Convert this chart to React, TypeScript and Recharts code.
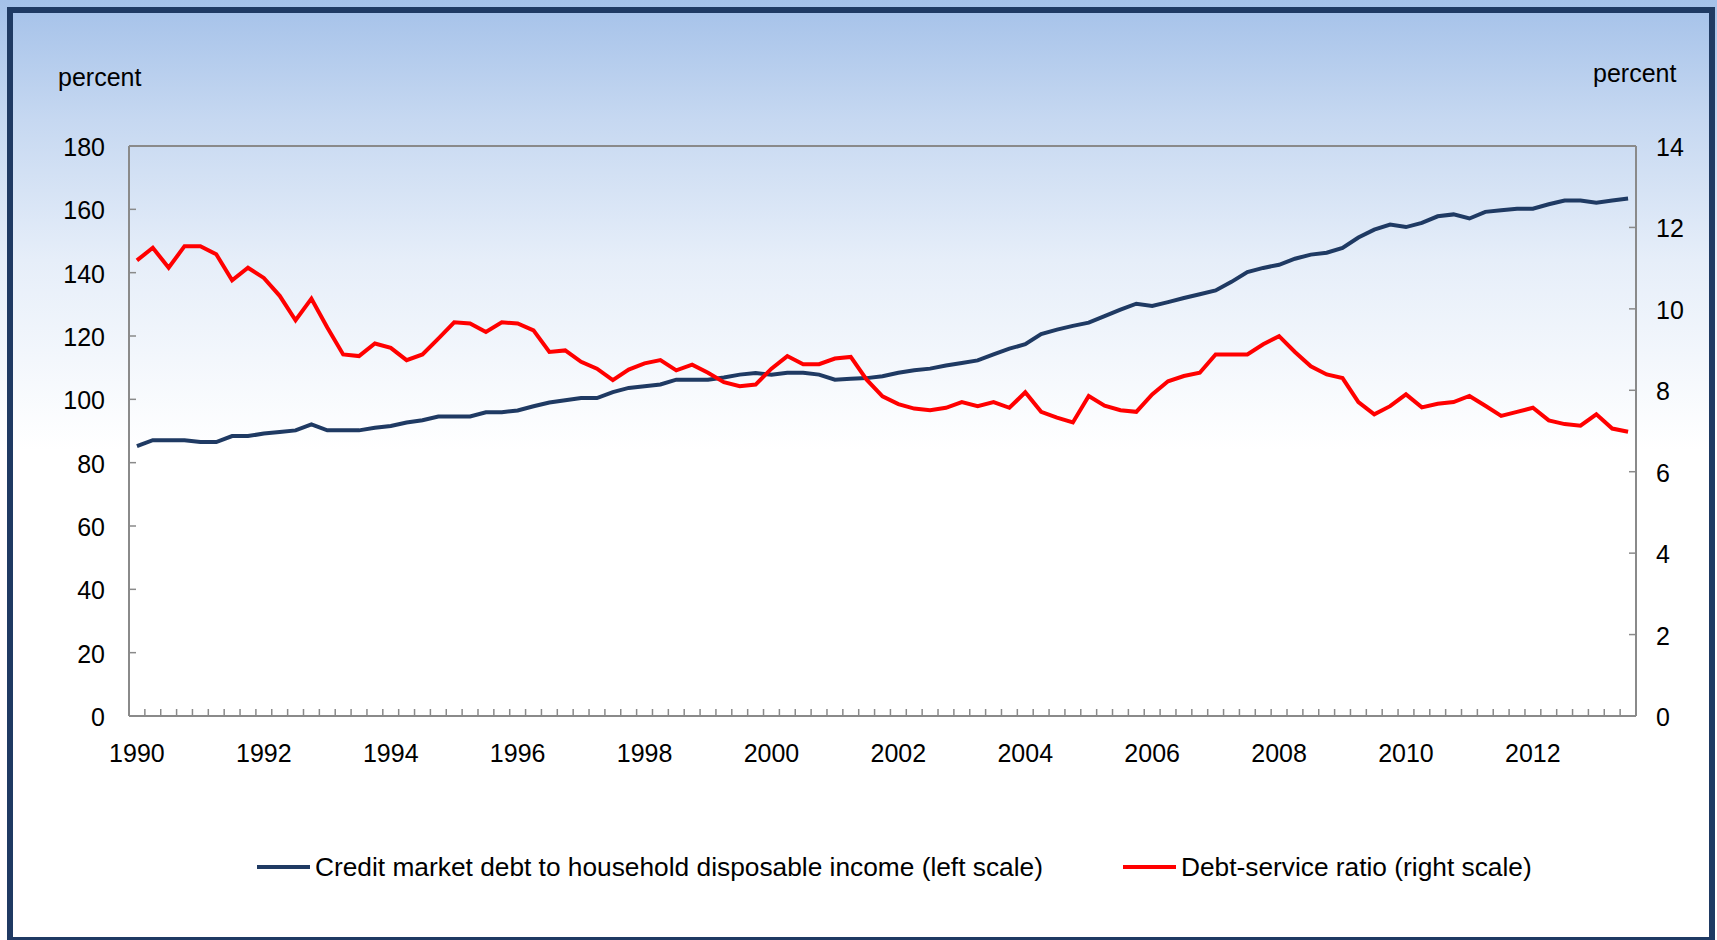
// Household debt vs debt-service ratio, quarterly 1990-2013
import { LineChart, Line, XAxis, YAxis, Legend, ReferenceLine, Label } from 'recharts';

const W = 1717;
const H = 940;
const LEFT_W = 129;
const RIGHT_W = 81;
const AXIS = '#8a8a8a';
const NAVY = '#1f3a63';
const RED = '#ff0000';
const FONT = '"Liberation Sans", Arial, sans-serif';

// quarters 1990 Q1 .. 2013 Q3
const startYear = 1990;
const quarterCount = 95;
const quarters: string[] = [];
for (let i = 0; i < quarterCount; i++) {
    quarters.push(`${startYear + Math.floor(i / 4)} Q${(i % 4) + 1}`);
}

const labelYears = [1990, 1992, 1994, 1996, 1998, 2000, 2002, 2004, 2006, 2008, 2010, 2012];
const leftTicks = [0, 20, 40, 60, 80, 100, 120, 140, 160, 180];
const rightTicks = [0, 2, 4, 6, 8, 10, 12, 14];

// credit market debt to household disposable income, percent (left scale)
const creditDebt = [
    85.2, 87.1, 87.1, 87.1, 86.5, 86.5, 88.4, 88.4, 89.2, 89.7,
    90.2, 92.1, 90.2, 90.2, 90.2, 91.0, 91.6, 92.7, 93.4, 94.6,
    94.6, 94.6, 95.9, 95.9, 96.5, 97.8, 99.0, 99.7, 100.4, 100.4,
    102.3, 103.6, 104.1, 104.7, 106.2, 106.2, 106.2, 106.9, 107.8, 108.3,
    107.8, 108.4, 108.4, 107.8, 106.2, 106.5, 106.7, 107.3, 108.4, 109.2,
    109.7, 110.7, 111.5, 112.3, 114.2, 116.0, 117.4, 120.6, 122.0, 123.2,
    124.2, 126.3, 128.3, 130.2, 129.5, 130.7, 132.0, 133.2, 134.4, 137.1,
    140.2, 141.5, 142.5, 144.4, 145.7, 146.3, 147.8, 151.1, 153.6, 155.2,
    154.4, 155.7, 157.8, 158.4, 157.1, 159.2, 159.7, 160.2, 160.2, 161.6,
    162.8, 162.8, 162.1, 162.8, 163.4,
];

// debt-service ratio, percent (right scale)
const debtService = [
    11.19, 11.5, 11.01, 11.54, 11.54, 11.34, 10.7, 11.01, 10.76, 10.32,
    9.72, 10.25, 9.54, 8.88, 8.84, 9.15, 9.04, 8.74, 8.88, 9.27,
    9.67, 9.64, 9.43, 9.67, 9.64, 9.47, 8.94, 8.98, 8.7, 8.53,
    8.25, 8.51, 8.66, 8.74, 8.49, 8.63, 8.43, 8.2, 8.1, 8.14,
    8.53, 8.84, 8.64, 8.64, 8.78, 8.82, 8.26, 7.85, 7.66, 7.55,
    7.51, 7.57, 7.71, 7.61, 7.71, 7.57, 7.95, 7.47, 7.33, 7.21,
    7.86, 7.62, 7.51, 7.47, 7.9, 8.22, 8.35, 8.43, 8.88, 8.88,
    8.88, 9.13, 9.33, 8.94, 8.59, 8.39, 8.3, 7.71, 7.41, 7.61,
    7.9, 7.58, 7.67, 7.71, 7.86, 7.62, 7.37, 7.47, 7.57, 7.26,
    7.17, 7.13, 7.41, 7.06, 6.98,
];

const seriesNames = [
    'Credit market debt to household disposable income (left scale)',
    'Debt-service ratio (right scale)',
];

const data = quarters.map((q, i) => ({
    quarter: q,
    debt: creditDebt[i],
    dsr: debtService[i],
}));

const band = (W - LEFT_W - RIGHT_W) / quarters.length;

function XTick(props: any) {
    const { x, y, payload } = props;
    const [yr, q] = String(payload.value).split(' ');
    const showLabel = q === 'Q1' && labelYears.includes(Number(yr));
    const bx = x - band / 2;
    return (
        <g>
            {payload.index > 0 && <line x1={bx} x2={bx} y1={y} y2={y - 7} stroke={AXIS} strokeWidth={1.5} />}
            {showLabel && (
                <text x={x} y={y + 46} textAnchor="middle" fontSize={25} fontFamily={FONT} fill="#000">
                    {yr}
                </text>
            )}
        </g>
    );
}

function LeftTick(props: any) {
    const { x, y, payload } = props;
    const ax = x + 24;
    return (
        <g>
            <line x1={ax} x2={ax + 7} y1={y} y2={y} stroke={AXIS} strokeWidth={1.5} />
            <text x={x} y={y} dy={10} textAnchor="end" fontSize={25} fontFamily={FONT} fill="#000">
                {payload.value}
            </text>
        </g>
    );
}

function RightTick(props: any) {
    const { x, y, payload } = props;
    const ax = x - 20;
    return (
        <g>
            <line x1={ax - 7} x2={ax} y1={y} y2={y} stroke={AXIS} strokeWidth={1.5} />
            <text x={x} y={y} dy={10} textAnchor="start" fontSize={25} fontFamily={FONT} fill="#000">
                {payload.value}
            </text>
        </g>
    );
}

function LegendBox() {
    const item = (name: string, color: string, gap: number) => (
        <div style={{ display: 'flex', alignItems: 'center', marginLeft: gap }}>
            <span style={{ display: 'inline-block', width: 53, height: 4, background: color, marginRight: 5 }} />
            <span style={{ fontSize: 26.3, color: '#000', whiteSpace: 'nowrap' }}>{name}</span>
        </div>
    );
    return (
        <div style={{ display: 'flex', alignItems: 'center', height: 60, paddingLeft: 257, fontFamily: FONT }}>
            {item(seriesNames[0], NAVY, 0)}
            {item(seriesNames[1], RED, 80)}
        </div>
    );
}

export default function App() {
    return (
        <div
            style={{
                position: 'absolute',
                left: 0,
                top: 0,
                width: W,
                height: H,
                overflow: 'hidden',
                fontFamily: FONT,
                background: 'linear-gradient(180deg, #a4c1e9 0px, #c6d8f1 120px, #e6eef9 260px, #ffffff 450px, #ffffff 100%)',
            }}
        >
            <div
                style={{
                    position: 'absolute',
                    left: 7,
                    top: 7,
                    width: 1708,
                    height: 936,
                    border: `6px solid ${NAVY}`,
                    boxSizing: 'border-box',
                }}
            />
            <div style={{ position: 'absolute', left: 0, top: 0 }}>
                <LineChart width={W} height={H} data={data} margin={{ top: 146, right: 0, bottom: 104, left: 0 }}>
                    <XAxis
                        dataKey="quarter"
                        xAxisId="x"
                        scale="band"
                        interval={0}
                        tickLine={false}
                        tickSize={0}
                        tickMargin={0}
                        height={60}
                        axisLine={{ stroke: AXIS, strokeWidth: 2 }}
                        tick={<XTick />}
                    />
                    <YAxis
                        yAxisId="left"
                        orientation="left"
                        width={LEFT_W}
                        domain={[0, 180]}
                        ticks={leftTicks}
                        tickLine={false}
                        tickSize={0}
                        tickMargin={24}
                        axisLine={{ stroke: AXIS, strokeWidth: 2 }}
                        tick={<LeftTick />}
                    >
                        <Label
                            content={(p: any) => (
                                <text x={p.viewBox.x + 58} y={86} fontSize={25} fontFamily={FONT} fill="#000">
                                    percent
                                </text>
                            )}
                        />
                    </YAxis>
                    <YAxis
                        yAxisId="right"
                        orientation="right"
                        width={RIGHT_W}
                        domain={[0, 14]}
                        ticks={rightTicks}
                        tickLine={false}
                        tickSize={0}
                        tickMargin={20}
                        axisLine={{ stroke: AXIS, strokeWidth: 2 }}
                        tick={<RightTick />}
                    >
                        <Label
                            content={(p: any) => (
                                <text x={p.viewBox.x - 43} y={82} fontSize={25} fontFamily={FONT} fill="#000">
                                    percent
                                </text>
                            )}
                        />
                    </YAxis>
                    <ReferenceLine yAxisId="left" xAxisId="x" y={180} stroke={AXIS} strokeWidth={2} />
                    <Legend
                        verticalAlign="bottom"
                        height={60}
                        wrapperStyle={{ top: 837, left: 0, width: W, height: 60 }}
                        content={() => <LegendBox />}
                    />
                    <Line
                        xAxisId="x"
                        yAxisId="left"
                        dataKey="debt"
                        name={seriesNames[0]}
                        type="linear"
                        stroke={NAVY}
                        strokeWidth={4}
                        dot={false}
                        isAnimationActive={false}
                    />
                    <Line
                        xAxisId="x"
                        yAxisId="right"
                        dataKey="dsr"
                        name={seriesNames[1]}
                        type="linear"
                        stroke={RED}
                        strokeWidth={4}
                        dot={false}
                        isAnimationActive={false}
                    />
                </LineChart>
            </div>
        </div>
    );
}
